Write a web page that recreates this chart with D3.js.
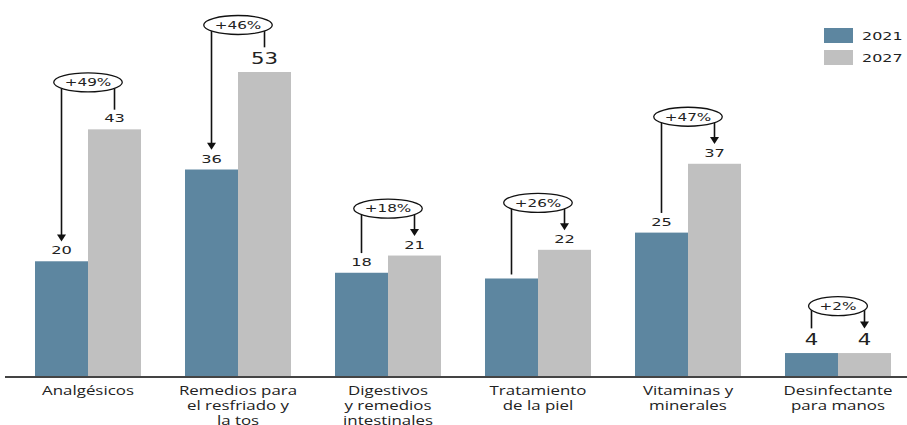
<!DOCTYPE html>
<html>
<head>
<meta charset="utf-8">
<script src="https://cdn.jsdelivr.net/npm/d3@7"></script>
<style>
  html, body { margin: 0; padding: 0; background: #fff; }
  svg { display: block; }
</style>
</head>
<body>
<svg id="chart" width="907" height="425"></svg>
<script>
// Market size by OTC product category, 2021 vs 2027
const categories = [
  "Analgésicos",
  "Remedios para\nel resfriado y\nla tos",
  "Digestivos\ny remedios\nintestinales",
  "Tratamiento\nde la piel",
  "Vitaminas y\nminerales",
  "Desinfectante\npara manos"
];
const years = ["2021", "2027"];
const values2021 = [20, 36, 18, 17, 25, 4];
const values2027 = [43, 53, 21, 22, 37, 4];
const showValue2021 = [true, true, true, false, true, true];
const showValue2027 = [true, true, true, true, true, true];
const growthLabels = ["+49%", "+46%", "+18%", "+26%", "+47%", "+2%"];
const arrowYear = ["2021", "2021", "2027", "2027", "2027", "2027"];

const colors = { "2021": "#5d86a0", "2027": "#c0c0c0" };
// value labels drawn in the larger type
const largeValue = new Set(["1|2027", "5|2021", "5|2027"]);

const svg = d3.select("#chart");
const baseY = 376;

const x0 = d3.scaleBand()
  .domain(d3.range(categories.length))
  .range([13, 913])
  .paddingInner(0.2933)
  .paddingOuter(0.1467);

const x1 = d3.scaleBand()
  .domain(years)
  .range([0, x0.bandwidth()]);

const y = d3.scaleLinear()
  .domain([0, 53])
  .range([baseY, 72]);

const rows = categories.map((c, i) => ({
  i,
  label: c,
  vals: {
    "2021": { v: values2021[i], show: showValue2021[i] },
    "2027": { v: values2027[i], show: showValue2027[i] }
  }
}));

const barCenter = (i, yr) => x0(i) + x1(yr) + x1.bandwidth() / 2;

// scaled text helper: text is drawn wide, as in the source layout
function wideText(sel, x, yy, k) {
  return sel.attr("text-anchor", "middle")
    .attr("transform", `translate(${x},${yy}) scale(${k},1)`);
}

// bars
const groups = svg.append("g").selectAll("g")
  .data(rows).join("g")
  .attr("transform", d => `translate(${x0(d.i)},0)`);

groups.selectAll("rect")
  .data(d => years.map(yr => ({ yr, v: d.vals[yr].v })))
  .join("rect")
  .attr("x", d => x1(d.yr))
  .attr("y", d => y(d.v))
  .attr("width", x1.bandwidth())
  .attr("height", d => baseY - y(d.v))
  .attr("fill", d => colors[d.yr]);

// value labels
const valueFont = (i, yr) => largeValue.has(`${i}|${yr}`) ? 16 : 10.5;
rows.forEach(r => {
  years.forEach(yr => {
    const o = r.vals[yr];
    if (!o.show) return;
    const fs = valueFont(r.i, yr);
    const big = fs > 12;
    svg.append("text")
      .call(wideText, barCenter(r.i, yr), y(o.v) - (big ? 8 : 7), big ? 1.33 : 1.55)
      .attr("font-family", "DejaVu Sans, sans-serif")
      .attr("font-size", fs)
      .attr("fill", "#222")
      .text(o.v);
  });
});

// growth callouts: ellipse with two leader lines, one ending in an arrow
const callouts = svg.append("g");
rows.forEach(r => {
  const cx = (barCenter(r.i, "2021") + barCenter(r.i, "2027")) / 2;
  const top = y(Math.max(r.vals["2021"].v, r.vals["2027"].v));
  const cy = top - 47;

  years.forEach(yr => {
    const o = r.vals[yr];
    const bx = barCenter(r.i, yr);
    let end;
    if (o.show) {
      const fs = valueFont(r.i, yr);
      end = y(o.v) - (fs > 12 ? 8 : 7) - fs * 0.73 - 5;
    } else {
      end = y(o.v) - 4;
    }
    const arrow = arrowYear[r.i] === yr;
    callouts.append("line")
      .attr("x1", bx).attr("x2", bx)
      .attr("y1", cy).attr("y2", arrow ? end - 6 : end)
      .attr("stroke", "#111").attr("stroke-width", 1.6);
    if (arrow) {
      callouts.append("path")
        .attr("d", `M${bx - 4.5},${end - 7}L${bx + 4.5},${end - 7}L${bx},${end}Z`)
        .attr("fill", "#111");
    }
  });

  const ell = callouts.append("ellipse")
    .attr("cx", cx).attr("cy", cy)
    .attr("ry", 9.5)
    .attr("fill", "#fff")
    .attr("stroke", "#111").attr("stroke-width", 1.3);
  const t = callouts.append("text")
    .call(wideText, cx, cy + 3.8, 1.45)
    .attr("font-family", "DejaVu Sans, sans-serif")
    .attr("font-size", 10.5)
    .attr("fill", "#222")
    .text(growthLabels[r.i]);
  const w = t.node().getComputedTextLength() * 1.45;
  ell.attr("rx", w / 2 + 11);
});

// category axis
const axis = d3.axisBottom(x0).tickSize(0).tickFormat(i => categories[i]);
const axG = svg.append("g")
  .attr("transform", `translate(0,${baseY})`)
  .call(axis);
axG.select(".domain").remove();
axG.selectAll(".tick text").each(function(i) {
  const lines = categories[i].split("\n");
  const t = d3.select(this)
    .text(null)
    .attr("y", 0).attr("dy", null)
    .attr("font-family", "Open Sans, sans-serif")
    .attr("font-size", 13)
    .attr("fill", "#222")
    .attr("text-anchor", "middle")
    .attr("transform", "scale(1.3,1)");
  lines.forEach((ln, j) => {
    t.append("tspan").attr("x", 0).attr("y", 19 + j * 15).text(ln);
  });
});

svg.append("line")
  .attr("x1", 5).attr("x2", 907)
  .attr("y1", baseY + 1).attr("y2", baseY + 1)
  .attr("stroke", "#444").attr("stroke-width", 2);

// legend
const legend = svg.append("g");
years.forEach((yr, j) => {
  legend.append("rect")
    .attr("x", 824).attr("y", 28 + j * 22)
    .attr("width", 29).attr("height", 15)
    .attr("fill", colors[yr]);
  legend.append("text")
    .attr("transform", `translate(862,${40 + j * 22}) scale(1.45,1)`)
    .attr("font-family", "DejaVu Sans, sans-serif")
    .attr("font-size", 11)
    .attr("fill", "#222")
    .text(yr);
});
</script>
</body>
</html>
